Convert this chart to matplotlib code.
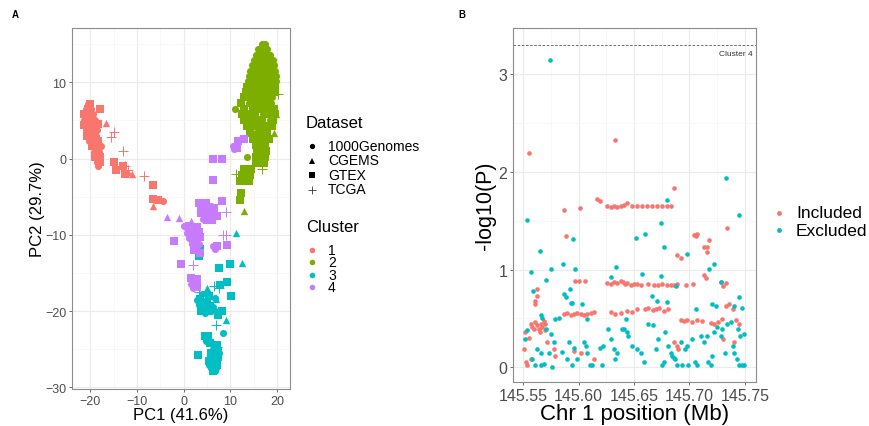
import numpy as np
import matplotlib.pyplot as plt
from matplotlib.lines import Line2D

plt.rcParams['font.family'] = ['Liberation Sans', 'DejaVu Sans']

# ---- panel A: PCA, one list set per cluster (dataset code: G=1000Genomes, C=CGEMS, X=GTEX, T=TCGA)
c1_pc1 = [-20.5, -20.0, -21.0, -20.4, -19.8, -21.3, -20.7, -20.1, -19.5, -21.4, -20.8, -20.2, -19.6, -19.0,
          -21.3, -20.7, -20.1, -19.5, -18.9, -21.0, -20.4, -19.8, -19.2, -18.6, -20.6, -20.0, -19.4, -18.8,
          -20.2, -19.6, -19.0, -18.4, -19.6, -19.0, -18.4, -17.8, -19.3, -18.7, -18.1, -19.0, -18.4, -17.9,
          -18.6, -18.0, -18.3, -18.0, -18.3,
          -16.6, -15.0, -15.5, -13.0, -12.5, -12.0, -8.5, -15.0, -14.5, -13.0, -12.5, -6.5, -6.5, -5.5,
          -11.0, -12.0, -6.5, -4.5]
c1_pc2 = [7.2, 7.2, 6.5, 6.5, 6.5, 5.8, 5.8, 5.8, 5.8, 5.1, 5.1, 5.1, 5.1, 5.1,
          4.4, 4.4, 4.4, 4.4, 4.4, 3.7, 3.7, 3.7, 3.7, 3.7, 3.0, 3.0, 3.0, 3.0,
          2.3, 2.3, 2.3, 2.3, 1.6, 1.6, 1.6, 1.6, 0.9, 0.9, 0.9, 0.2, 0.2, 0.2,
          -0.5, -0.5, -1.0, 6.5, 4.5,
          4.7, 3.5, 2.8, 1.0, -1.0, -1.5, -2.3, -0.5, -1.5, -1.0, -2.0, -3.5, -5.3, -5.5,
          -2.0, -1.8, -6.2, -5.6]
c1_set = "".join(["GX", "GXG", "XGXG", "GXGXG", "XGXGX", "GXGXG", "XGXG", "GXGX", "XGXG",
                  "GXG", "XGX", "GX", "G", "XX",
                  "C", "TTTTTT", "XXXXXXX", "CCC", "G"])

c2_pc1 = [16.8, 17.4, 16.0, 16.6, 17.2, 17.8, 15.5, 16.1, 16.7, 17.3, 17.9, 18.5,
          15.0, 15.6, 16.2, 16.8, 17.4, 18.0, 18.6, 19.1, 14.6, 15.2, 15.8, 16.4, 17.0, 17.6, 18.2, 18.8, 19.4,
          14.3, 14.9, 15.5, 16.1, 16.7, 17.3, 17.9, 18.5, 19.1, 19.6, 14.0, 14.6, 15.2, 16.4, 17.0, 17.6, 18.2, 18.8, 19.4, 19.9,
          13.8, 14.4, 15.6, 16.2, 17.4, 18.0, 18.6, 19.2, 19.8, 13.5, 14.1, 15.3, 16.5, 17.1, 17.7, 18.9, 19.5,
          13.3, 14.5, 15.7, 16.9, 17.5, 18.1, 19.3, 13.0, 13.8, 15.0, 16.2, 17.0, 18.4, 19.0,
          12.2, 14.0, 15.5, 16.5, 17.6, 18.8, 11.0, 13.0, 14.8, 16.0, 17.2, 18.3, 19.4,
          12.5, 13.8, 15.3, 17.0, 18.0, 19.6, 13.0, 14.5, 15.8, 16.8, 18.5, 19.2,
          13.5, 15.0, 16.2, 17.5, 19.0, 14.2, 15.6, 16.6, 17.8, 14.8, 16.0, 17.2, 18.4,
          15.5, 16.5, 17.5, 15.8, 16.8, 17.6, 13.5, 15.6, 16.6, 17.4, 15.5, 16.5, 17.2,
          13.0, 14.5, 12.5, 13.5, 14.2, 12.0, 13.0, 14.0, 12.3, 12.0,
          13.0, 20.2, 11.2, 12.0, 16.8, 19.9, 19.4, 16.3]
c2_pc2 = [15.0, 15.0, 14.3, 14.3, 14.3, 14.3, 13.6, 13.6, 13.6, 13.6, 13.6, 13.6,
          12.9, 12.9, 12.9, 12.9, 12.9, 12.9, 12.9, 12.9, 12.2, 12.2, 12.2, 12.2, 12.2, 12.2, 12.2, 12.2, 12.2,
          11.5, 11.5, 11.5, 11.5, 11.5, 11.5, 11.5, 11.5, 11.5, 11.5, 10.8, 10.8, 10.8, 10.8, 10.8, 10.8, 10.8, 10.8, 10.8, 10.8,
          10.1, 10.1, 10.1, 10.1, 10.1, 10.1, 10.1, 10.1, 10.1, 9.4, 9.4, 9.4, 9.4, 9.4, 9.4, 9.4, 9.4,
          8.7, 8.7, 8.7, 8.7, 8.7, 8.7, 8.7, 8.0, 8.0, 8.0, 8.0, 8.0, 8.0, 8.0,
          7.3, 7.3, 7.3, 7.3, 7.3, 7.3, 6.5, 6.5, 6.5, 6.5, 6.5, 6.5, 6.5,
          5.8, 5.8, 5.8, 5.8, 5.8, 5.8, 5.0, 5.0, 5.0, 5.0, 5.0, 5.0,
          4.2, 4.2, 4.2, 4.2, 4.2, 3.4, 3.4, 3.4, 3.4, 2.6, 2.6, 2.6, 2.6,
          1.8, 1.8, 1.8, 1.0, 1.0, 1.0, 0.2, 0.2, 0.2, 0.2, -0.6, -0.6, -0.6,
          -1.4, -1.4, -2.2, -2.2, -2.2, -3.0, -3.0, -3.0, -4.5, -5.5,
          -6.9, 8.5, -2.0, -2.0, -1.4, 5.8, 3.3, 4.8]
c2_set = "".join(["GG", "GGGG", "GGGGGG", "GGGGGGGG", "GGGGGGGGG", "GGXGGGGGGG", "GXGGGGGGXG",
                  "GXGGXGGGG", "XGXGGXGX", "XGXGXGX", "XXGXGXG", "XGXGXG", "GXXGXGX", "XXXGXX",
                  "XXGXGX", "XXGXX", "XGXX", "XXGX", "XXX", "XGX", "GXXX", "XXX",
                  "XX", "XXX", "XXX", "X", "X", "C", "TTTT", "CCC"])

c3_pc1 = [2.8, 3.5, 4.2, 5.0, 3.2, 4.0, 4.8, 5.6, 6.3, 3.8, 4.6, 5.4, 6.8, 7.4, 4.0, 5.5, 6.8,
          4.6, 5.3, 4.9, 5.6,
          6.6, 7.2, 6.2, 6.8, 7.4, 5.8, 6.4, 7.0, 7.6, 5.6, 6.2, 6.8, 7.4, 5.4, 6.0, 6.6, 7.2,
          5.4, 6.0, 6.6, 7.2, 5.8, 6.4, 7.0, 6.2, 6.8,
          3.6, 3.2, 7.5, 10.0, 9.2, 10.2, 7.8, 3.0, 8.3,
          11.2, 12.5, 5.0, 9.0, 7.0, 8.5,
          7.0, 6.5, 3.3, 7.5, 7.2]
c3_pc2 = [-18.6, -18.4, -18.7, -18.9, -19.2, -19.3, -19.5, -19.3, -19.5, -20.0, -20.2, -20.0, -20.0, -20.5, -17.8, -18.0, -18.3,
          -23.2, -23.3, -23.9, -24.2,
          -24.5, -24.5, -25.0, -25.0, -25.0, -25.5, -25.5, -25.5, -25.5, -26.0, -26.0, -26.0, -26.0,
          -26.5, -26.5, -26.5, -26.5, -27.0, -27.0, -27.0, -27.0, -27.5, -27.5, -27.5, -27.9, -27.9,
          -11.8, -12.8, -14.3, -13.8, -16.2, -18.0, -16.6, -25.8, -20.0,
          -9.8, -13.7, -17.0, -21.2, -18.4, -22.8,
          -21.8, -16.7, -17.5, -17.0, -24.7]
c3_set = "".join(["GXGXGXGXG", "XGXGXGXG", "XXGX",
                  "GX", "GXG", "XGXG", "GXGX", "XGXG", "GXGX", "GXG", "XG",
                  "XXXXXXXXX", "CCCCC", "G", "TTTTT"])

c4_pc1 = [10.8, 11.2, 11.7, 12.3, 13.0, 10.6, 11.5,
          6.2, 8.2, 6.2,
          3.3, 4.0, 4.8, 3.5, 4.2, 5.0, 3.8, 4.6, 5.4, 4.2, 5.0, 5.8,
          8.2, 6.5, 7.2, 6.0,
          0.5, 1.2, 2.0, 2.8, 0.8, 1.6, 2.4, 3.2, 1.2, 2.0, 2.8, 3.6, 1.8, 2.6, 3.4, 2.2, 3.0, 3.6, 0.0,
          -3.5, -1.0, 1.5,
          -2.0, -0.5, 7.2, 9.3,
          6.3, 6.8,
          9.0, 8.5, 1.5, 2.0, 9.0,
          1.5, 2.2, 2.8, 1.6, 2.4, 2.0, 2.8]
c4_pc2 = [1.2, 1.8, 2.3, 2.5, 2.6, 1.6, 1.4,
          0.0, 0.0, -2.8,
          -5.8, -5.7, -5.8, -6.5, -6.4, -6.6, -7.2, -7.3, -7.4, -7.9, -8.0, -6.2,
          -5.6, -6.5, -7.5, -8.0,
          -9.0, -8.8, -9.1, -9.0, -9.7, -9.6, -9.8, -9.6, -10.4, -10.5, -10.4, -10.3, -11.2, -11.3, -11.2, -12.0, -12.1, -12.4, -8.8,
          -7.6, -7.8, -8.2,
          -10.8, -13.8, -11.5, -11.3,
          -11.4, -11.8,
          -7.0, -10.0, -10.5, -14.0, -10.0,
          -15.7, -15.6, -15.8, -16.4, -16.4, -17.0, -16.9]
c4_set = "".join(["GGXGXGX", "XXX", "XGXGXG", "XGXGXG", "XXXX",
                  "GXGXGXGXGX", "GXGXGXGXG",
                  "CCC", "XXXX", "GG", "TTTTT", "XGXGXGX"])

# ---- panel B: association, included vs excluded SNPs
inc_pos = [145.555, 145.633, 145.686, 145.587, 145.601, 145.617, 145.619,
           145.626, 145.629, 145.632, 145.635, 145.638, 145.641, 145.644, 145.648, 145.653, 145.657,
           145.662, 145.666, 145.671, 145.675, 145.680, 145.683,
           145.589, 145.704, 145.706, 145.707, 145.718, 145.713, 145.716, 145.689, 145.692, 145.716, 145.734,
           145.728, 145.730, 145.733, 145.597, 145.600, 145.606,
           145.626, 145.629, 145.632, 145.635, 145.638, 145.640, 145.642, 145.644, 145.647, 145.650, 145.653,
           145.656, 145.663, 145.668, 145.672, 145.675, 145.680, 145.683, 145.686, 145.689, 145.697, 145.703,
           145.713, 145.715,
           145.587, 145.590, 145.593, 145.596, 145.599, 145.602, 145.605, 145.608, 145.611, 145.614,
           145.629, 145.633, 145.638, 145.644, 145.648, 145.653,
           145.660, 145.663, 145.667, 145.670, 145.673, 145.677, 145.681,
           145.692, 145.695, 145.698, 145.702, 145.707, 145.711, 145.719, 145.722, 145.726,
           145.729, 145.733, 145.736, 145.739, 145.742, 145.745,
           145.557, 145.558, 145.560, 145.561, 145.563, 145.564, 145.566, 145.567, 145.569, 145.570,
           145.563, 145.561, 145.561, 145.563, 145.552, 145.555, 145.565, 145.570,
           145.551, 145.553, 145.554, 145.557, 145.572, 145.578, 145.579,
           145.596, 145.602, 145.614, 145.686, 145.689, 145.690, 145.740, 145.730]
inc_logp = [2.19, 2.33, 1.83, 1.61, 1.63, 1.72, 1.70,
            1.65, 1.64, 1.65, 1.64, 1.65, 1.66, 1.68, 1.65, 1.65, 1.65,
            1.65, 1.65, 1.65, 1.65, 1.65, 1.65,
            1.34, 1.35, 1.34, 1.36, 1.30, 1.23, 1.23, 1.15, 1.12, 1.18, 1.42,
            0.87, 0.83, 0.86, 0.88, 0.88, 0.88,
            0.86, 0.85, 0.87, 0.86, 0.88, 0.87, 0.85, 0.86, 0.84, 0.85, 0.85,
            0.84, 0.85, 0.84, 0.84, 0.85, 0.84, 0.84, 0.84, 0.85, 0.84, 0.85,
            0.94, 0.91,
            0.55, 0.56, 0.54, 0.55, 0.56, 0.55, 0.54, 0.55, 0.56, 0.57,
            0.57, 0.55, 0.56, 0.58, 0.57, 0.60,
            0.60, 0.61, 0.59, 0.60, 0.61, 0.58, 0.60,
            0.48, 0.47, 0.48, 0.46, 0.48, 0.47, 0.45, 0.44, 0.46,
            0.49, 0.63, 0.65, 0.60, 0.48, 0.44,
            0.44, 0.41, 0.39, 0.46, 0.43, 0.39, 0.44, 0.41, 0.47, 0.44,
            0.73, 0.68, 0.65, 0.80, 0.36, 0.30, 0.36, 0.38,
            0.19, 0.05, 0.02, 0.09, 0.26, 0.19, 0.12,
            0.17, 0.15, 0.09, 0.26, 0.22, 0.19, 0.26, 0.29]

exc_pos = [145.574, 145.733, 145.745, 145.554, 145.680, 145.674, 145.595, 145.652, 145.660, 145.677,
           145.698, 145.565, 145.557, 145.575, 145.571, 145.586, 145.597, 145.634, 145.629, 145.657,
           145.674, 145.722, 145.718, 145.728, 145.688, 145.559, 145.666, 145.671, 145.680,
           145.587, 145.589, 145.593, 145.594, 145.592, 145.603, 145.706, 145.720, 145.724, 145.745,
           145.740, 145.747, 145.566, 145.567, 145.579, 145.582, 145.608, 145.554, 145.552,
           145.571, 145.575, 145.578, 145.573, 145.566, 145.563, 145.558, 145.561, 145.566, 145.569, 145.576,
           145.585, 145.590, 145.594, 145.591, 145.596, 145.599,
           145.605, 145.607, 145.608, 145.610, 145.612, 145.621,
           145.627, 145.629, 145.632, 145.633, 145.635,
           145.639, 145.644, 145.648, 145.645, 145.653, 145.656, 145.659, 145.663, 145.667,
           145.670, 145.672, 145.675, 145.677,
           145.678, 145.681, 145.683, 145.684, 145.686, 145.687, 145.689,
           145.692, 145.693, 145.696, 145.698, 145.699, 145.702,
           145.705, 145.707, 145.710, 145.713, 145.716,
           145.717, 145.719, 145.720, 145.722, 145.725,
           145.728, 145.729, 145.732, 145.734, 145.737,
           145.739, 145.740, 145.743, 145.745, 145.747, 145.749, 145.746, 145.749, 145.744,
           145.643, 145.641, 145.619, 145.622]
exc_logp = [3.14, 1.94, 1.56, 1.51, 1.71, 1.48, 1.31, 1.32, 1.36, 1.23,
            1.16, 1.19, 0.97, 1.01, 0.89, 1.06, 1.01, 1.03, 0.92, 0.95,
            0.93, 1.06, 1.01, 0.87, 0.83, 0.78, 0.73, 0.68, 0.67,
            0.75, 0.72, 0.66, 0.66, 0.80, 0.65, 0.60, 0.65, 0.63, 0.72,
            0.63, 0.61, 0.54, 0.50, 0.49, 0.50, 0.49, 0.38, 0.29,
            0.39, 0.34, 0.26, 0.15, 0.15, 0.19, 0.09, 0.02, 0.02, 0.03, 0.00,
            0.16, 0.09, 0.02, 0.26, 0.20, 0.09,
            0.26, 0.22, 0.15, 0.02, 0.02, 0.02,
            0.39, 0.29, 0.19, 0.09, 0.15,
            0.39, 0.36, 0.22, 0.32, 0.19, 0.15, 0.05, 0.44, 0.43,
            0.19, 0.29, 0.02, 0.05,
            0.36, 0.22, 0.15, 0.12, 0.10, 0.09, 0.02,
            0.26, 0.02, 0.19, 0.22, 0.02, 0.29,
            0.05, 0.02, 0.32, 0.26, 0.32,
            0.05, 0.02, 0.12, 0.36, 0.41,
            0.32, 0.39, 0.15, 0.44, 0.46,
            0.22, 0.15, 0.09, 0.02, 0.02, 0.02, 0.32, 0.34, 0.39,
            0.49, 0.39, 0.20, 0.22]

threshold = 3.3

cluster_colors = ['#F8766D', '#7CAE00', '#00BFC4', '#C77CFF']
cluster_names = ['1', '2', '3', '4']
dataset_names = ['1000Genomes', 'CGEMS', 'GTEX', 'TCGA']
dataset_markers = {'G': 'o', 'C': '^', 'X': 's', 'T': '+'}
dataset_codes = ['G', 'C', 'X', 'T']
group_names = ['Included', 'Excluded']

grid_major = '#ebebeb'
grid_minor = '#f5f5f5'
border = '#8c8c8c'
W, H = 870, 427


def fxy(px, py):
    # pixel position (from top-left) -> figure fraction
    return px / W, 1 - py / H


def style_axes(ax, tick_size):
    ax.set_axisbelow(True)
    ax.grid(True, which='major', color=grid_major, linewidth=0.8)
    ax.grid(True, which='minor', color=grid_minor, linewidth=0.5)
    for sp in ax.spines.values():
        sp.set_color(border)
        sp.set_linewidth(0.8)
    ax.tick_params(which='major', length=2.5, width=0.6, color='#555555', labelcolor='#4d4d4d',
                   labelsize=tick_size, pad=1.5)
    ax.tick_params(which='minor', length=0)


def legend_entry(px, py, marker, color, size, label, fontsize, tx, mew=0.0):
    x, y = fxy(px, py)
    fig.add_artist(Line2D([x], [y], transform=fig.transFigure, linestyle='none', marker=marker,
                          color=color, markersize=size, markeredgewidth=mew))
    x2, _ = fxy(tx, py)
    fig.text(x2, y, label, fontsize=fontsize, va='center', ha='left', color='black')


fig = plt.figure(figsize=(8.7, 4.27), dpi=100)
axA = fig.add_axes([0.0828, 0.0867, 0.2505, 0.8453])
axB = fig.add_axes([0.5897, 0.103, 0.2793, 0.829])

clusters = [(c1_pc1, c1_pc2, c1_set), (c2_pc1, c2_pc2, c2_set),
            (c3_pc1, c3_pc2, c3_set), (c4_pc1, c4_pc2, c4_set)]
for (px, py, ds), col in zip(clusters, cluster_colors):
    px = np.array(px)
    py = np.array(py)
    ds = np.array(list(ds))
    n = min(len(px), len(ds))
    px, py, ds = px[:n], py[:n], ds[:n]
    for code in dataset_codes:
        m = ds == code
        if not m.any():
            continue
        if code == 'T':
            axA.scatter(px[m], py[m], marker='+', s=50, color=col, linewidths=0.7)
        else:
            s = 26 if code != 'C' else 28
            axA.scatter(px[m], py[m], marker=dataset_markers[code], s=s, color=col, linewidths=0)

axA.set_xlim(-23.9, 22.8)
axA.set_ylim(-30.2, 17.1)
axA.set_xticks([-20, -10, 0, 10, 20])
axA.set_yticks([-30, -20, -10, 0, 10])
axA.set_xticks([-15, -5, 5, 15], minor=True)
axA.set_yticks([-25, -15, -5, 5, 15], minor=True)
style_axes(axA, 9)
axA.set_xlabel('PC1 (41.6%)', fontsize=12, labelpad=0)
axA.set_ylabel('PC2 (29.7%)', fontsize=12, labelpad=0)

# legends for panel A, placed by hand like the ggplot guide
tx, ty = fxy(306, 123)
fig.text(tx, ty, 'Dataset', fontsize=12, va='center', ha='left')
for i, (code, name) in enumerate(zip(dataset_codes, dataset_names)):
    size = 3.8 if code != 'T' else 6
    mew = 0.6 if code == 'T' else 0
    color = 'black' if code != 'T' else '#333333'
    legend_entry(312, 147 + i * 14.5, dataset_markers[code], color, size, name, 10, 328, mew)

tx, ty = fxy(306, 228)
fig.text(tx, ty, 'Cluster', fontsize=12, va='center', ha='left')
for i, (col, name) in enumerate(zip(cluster_colors, cluster_names)):
    legend_entry(312, 251 + i * 12.3, 'o', col, 4, name, 10, 328)

# panel B
axB.scatter(inc_pos, inc_logp, s=11, color=cluster_colors[0], linewidths=0)
axB.scatter(exc_pos, exc_logp, s=11, color=cluster_colors[2], linewidths=0)
axB.axhline(threshold, color='#555555', linestyle=(0, (3, 2)), linewidth=0.6)
axB.text(145.757, threshold - 0.05, 'Cluster 4', ha='right', va='top', fontsize=6, color='#333333')
axB.set_xlim(145.541, 145.76)
axB.set_ylim(-0.15, 3.47)
axB.set_xticks([145.55, 145.60, 145.65, 145.70, 145.75])
axB.set_xticklabels(['145.55', '145.60', '145.65', '145.70', '145.75'])
axB.set_yticks([0, 1, 2, 3])
axB.set_xticks([145.575, 145.625, 145.675, 145.725], minor=True)
axB.set_yticks([0.5, 1.5, 2.5], minor=True)
style_axes(axB, 11.5)
axB.set_xlabel('Chr 1 position (Mb)', fontsize=16, labelpad=0)
axB.set_ylabel('-log10(P)', fontsize=15.5, labelpad=2)

for i, (col, name) in enumerate(zip([cluster_colors[0], cluster_colors[2]], group_names)):
    legend_entry(779, 214 + i * 17, 'o', col, 3.5, name, 12.5, 796)

fig.text(0.014, 0.965, 'A', fontsize=7, fontweight='bold', va='center')
fig.text(0.527, 0.965, 'B', fontsize=7, fontweight='bold', va='center')

fig.savefig('out.png', dpi=100)
